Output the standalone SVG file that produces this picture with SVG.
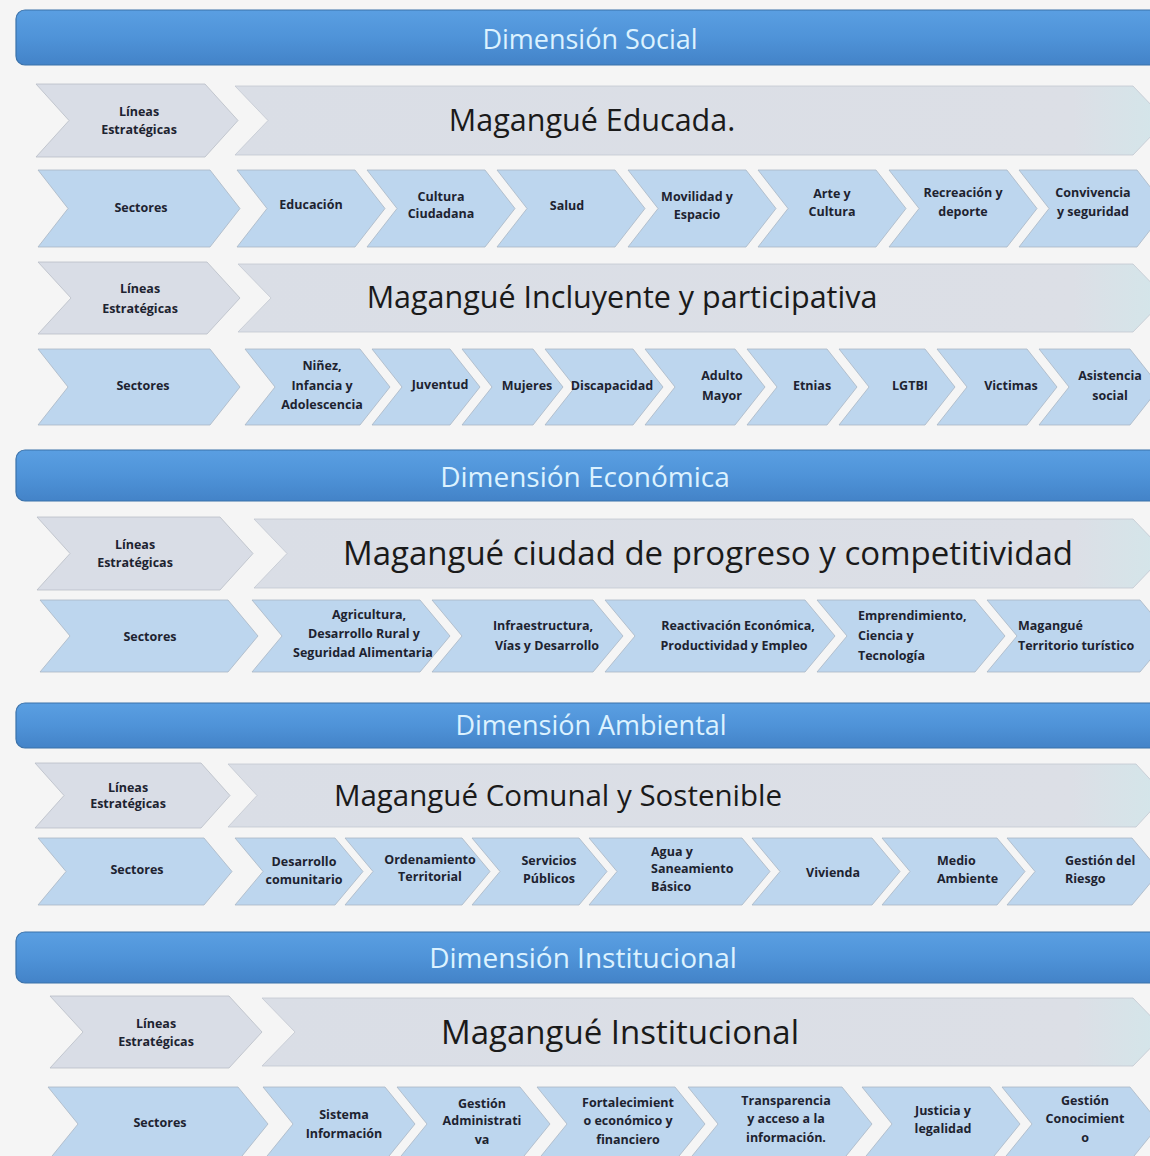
<svg xmlns="http://www.w3.org/2000/svg" width="1150" height="1156" viewBox="0 0 1150 1156">
<defs>
<linearGradient id="hdr" x1="0" y1="0" x2="0" y2="1">
<stop offset="0" stop-color="#5a9fe2"/>
<stop offset="0.5" stop-color="#4f93d8"/>
<stop offset="1" stop-color="#4383c8"/>
</linearGradient>
<linearGradient id="big" x1="0" y1="0" x2="1" y2="0">
<stop offset="0" stop-color="#dadee6"/>
<stop offset="0.9" stop-color="#dcdfe6"/>
<stop offset="1" stop-color="#d3e6ea"/>
</linearGradient>
<style>
.hdr{fill:url(#hdr);stroke:#3b72aa;stroke-width:1.2}
.ht{font-family:"Open Sans","Noto Sans",sans-serif;fill:#dcf2ff;text-anchor:middle}
.lin{fill:#d9dde6;stroke:#b9bec7;stroke-width:0.8}
.big{fill:url(#big);stroke:#c3c8d0;stroke-width:0.8}
.sec{fill:#bdd6ee;stroke:#a9b6c4;stroke-width:0.8}
.s{font-family:"Open Sans","Noto Sans",sans-serif;font-weight:700;fill:#1d2330;text-anchor:middle;font-size:12.5px}
.l{text-anchor:start}
.bt{font-family:"Open Sans","Noto Sans",sans-serif;fill:#1a1a1a;text-anchor:middle}
</style>
</defs>
<rect x="0" y="0" width="1150" height="1156" fill="#f5f5f5"/>

<!-- Dimension headers -->
<g id="hdr-social"><rect class="hdr" x="16" y="10" width="1150" height="55" rx="9"/><text class="ht" x="590" y="49" font-size="27">Dimensión Social</text></g>
<g id="hdr-economica"><rect class="hdr" x="16" y="450" width="1150" height="51" rx="9"/><text class="ht" x="585" y="487" font-size="28">Dimensión Económica</text></g>
<g id="hdr-ambiental"><rect class="hdr" x="16" y="703" width="1150" height="45" rx="9"/><text class="ht" x="591" y="735" font-size="27">Dimensión Ambiental</text></g>
<g id="hdr-institucional"><rect class="hdr" x="16" y="932" width="1150" height="51" rx="9"/><text class="ht" x="583" y="968" font-size="28">Dimensión Institucional</text></g>

<!-- Row 1 -->
<g id="r1-lineas"><path class="lin" d="M36,84 L205,84 L238,120.5 L205,157 L36,157 L69,120.5 Z"/><text class="s"><tspan x="139" y="116">Líneas</tspan><tspan x="139" y="134">Estratégicas</tspan></text></g>
<g id="r1-linea"><path class="big" d="M235,86 L1133,86 L1166,120.5 L1133,155 L235,155 L268,120.5 Z"/><text class="bt" x="592" y="131" font-size="30.5">Magangué Educada.</text></g>

<!-- Row 2 -->
<g id="r2-sectores"><path class="sec" d="M38,170 L210,170 L240,208.5 L210,247 L38,247 L68,208.5 Z"/><text class="s" x="141" y="212">Sectores</text></g>
<g id="r2-educacion"><path class="sec" d="M237,170 L355,170 L385,208.5 L355,247 L237,247 L267,208.5 Z"/><text class="s" x="311" y="209">Educación</text></g>
<g id="r2-cultura"><path class="sec" d="M367,170 L485,170 L515,208.5 L485,247 L367,247 L397,208.5 Z"/><text class="s"><tspan x="441" y="201">Cultura</tspan><tspan x="441" y="218">Ciudadana</tspan></text></g>
<g id="r2-salud"><path class="sec" d="M497,170 L615,170 L645,208.5 L615,247 L497,247 L527,208.5 Z"/><text class="s" x="567" y="210">Salud</text></g>
<g id="r2-movilidad"><path class="sec" d="M628,170 L746,170 L776,208.5 L746,247 L628,247 L658,208.5 Z"/><text class="s"><tspan x="697" y="201">Movilidad y</tspan><tspan x="697" y="219">Espacio</tspan></text></g>
<g id="r2-arte"><path class="sec" d="M758,170 L876,170 L906,208.5 L876,247 L758,247 L788,208.5 Z"/><text class="s"><tspan x="832" y="198">Arte y</tspan><tspan x="832" y="216">Cultura</tspan></text></g>
<g id="r2-recreacion"><path class="sec" d="M889,170 L1007,170 L1037,208.5 L1007,247 L889,247 L919,208.5 Z"/><text class="s"><tspan x="963" y="197">Recreación y</tspan><tspan x="963" y="216">deporte</tspan></text></g>
<g id="r2-convivencia"><path class="sec" d="M1019,170 L1137,170 L1167,208.5 L1137,247 L1019,247 L1049,208.5 Z"/><text class="s"><tspan x="1093" y="197">Convivencia</tspan><tspan x="1093" y="216">y seguridad</tspan></text></g>

<!-- Row 3 -->
<g id="r3-lineas"><path class="lin" d="M38,262 L207,262 L240,298 L207,334 L38,334 L71,298 Z"/><text class="s"><tspan x="140" y="293">Líneas</tspan><tspan x="140" y="313">Estratégicas</tspan></text></g>
<g id="r3-linea"><path class="big" d="M238,264 L1133,264 L1166,298 L1133,332 L238,332 L271,298 Z"/><text class="bt" x="622" y="308" font-size="30.5">Magangué Incluyente y participativa</text></g>

<!-- Row 4 -->
<g id="r4-sectores"><path class="sec" d="M38,349 L210,349 L240,387 L210,425 L38,425 L68,387 Z"/><text class="s" x="143" y="390">Sectores</text></g>
<g id="r4-ninez"><path class="sec" d="M245,349 L360,349 L390,387 L360,425 L245,425 L275,387 Z"/><text class="s"><tspan x="322" y="370">Niñez,</tspan><tspan x="322" y="390">Infancia y</tspan><tspan x="322" y="409">Adolescencia</tspan></text></g>
<g id="r4-juventud"><path class="sec" d="M372,349 L450,349 L480,387 L450,425 L372,425 L402,387 Z"/><text class="s" x="440" y="389">Juventud</text></g>
<g id="r4-mujeres"><path class="sec" d="M462,349 L533,349 L563,387 L533,425 L462,425 L492,387 Z"/><text class="s" x="527" y="390">Mujeres</text></g>
<g id="r4-discapacidad"><path class="sec" d="M545,349 L633,349 L663,387 L633,425 L545,425 L575,387 Z"/><text class="s" x="612" y="390" font-size="11">Discapacidad</text></g>
<g id="r4-adulto"><path class="sec" d="M645,349 L735,349 L765,387 L735,425 L645,425 L675,387 Z"/><text class="s"><tspan x="722" y="380">Adulto</tspan><tspan x="722" y="400">Mayor</tspan></text></g>
<g id="r4-etnias"><path class="sec" d="M747,349 L827,349 L857,387 L827,425 L747,425 L777,387 Z"/><text class="s" x="812" y="390">Etnias</text></g>
<g id="r4-lgtbi"><path class="sec" d="M839,349 L925,349 L955,387 L925,425 L839,425 L869,387 Z"/><text class="s" x="910" y="390">LGTBI</text></g>
<g id="r4-victimas"><path class="sec" d="M937,349 L1027,349 L1057,387 L1027,425 L937,425 L967,387 Z"/><text class="s" x="1011" y="390">Victimas</text></g>
<g id="r4-asistencia"><path class="sec" d="M1039,349 L1130,349 L1160,387 L1130,425 L1039,425 L1069,387 Z"/><text class="s"><tspan x="1110" y="380">Asistencia</tspan><tspan x="1110" y="400">social</tspan></text></g>

<!-- Row 5 -->
<g id="r5-lineas"><path class="lin" d="M37,517 L220,517 L253,553.5 L220,590 L37,590 L70,553.5 Z"/><text class="s"><tspan x="135" y="549">Líneas</tspan><tspan x="135" y="567">Estratégicas</tspan></text></g>
<g id="r5-linea"><path class="big" d="M254,519 L1133,519 L1166,553.5 L1133,588 L254,588 L287,553.5 Z"/><text class="bt" x="708" y="565" font-size="33">Magangué ciudad de progreso y competitividad</text></g>

<!-- Row 6 -->
<g id="r6-sectores"><path class="sec" d="M40,600 L228,600 L258,636 L228,672 L40,672 L70,636 Z"/><text class="s" x="150" y="641">Sectores</text></g>
<g id="r6-agricultura"><path class="sec" d="M252,600 L420,600 L450,636 L420,672 L252,672 L282,636 Z"/><text class="s" font-size="13.5"><tspan x="369" y="619">Agricultura,</tspan><tspan x="364" y="638">Desarrollo Rural y</tspan><tspan x="363" y="657">Seguridad Alimentaria</tspan></text></g>
<g id="r6-infra"><path class="sec" d="M432,600 L593,600 L623,636 L593,672 L432,672 L462,636 Z"/><text class="s" font-size="13"><tspan x="543" y="630">Infraestructura,</tspan><tspan x="547" y="650">Vías y Desarrollo</tspan></text></g>
<g id="r6-reactivacion"><path class="sec" d="M605,600 L805,600 L835,636 L805,672 L605,672 L635,636 Z"/><text class="s" font-size="13"><tspan x="738" y="630">Reactivación Económica,</tspan><tspan x="734" y="650">Productividad y Empleo</tspan></text></g>
<g id="r6-emprendimiento"><path class="sec" d="M817,600 L975,600 L1005,636 L975,672 L817,672 L847,636 Z"/><text class="s l" font-size="13"><tspan x="858" y="620">Emprendimiento,</tspan><tspan x="858" y="640">Ciencia y</tspan><tspan x="858" y="660">Tecnología</tspan></text></g>
<g id="r6-turismo"><path class="sec" d="M987,600 L1140,600 L1170,636 L1140,672 L987,672 L1017,636 Z"/><text class="s l" font-size="13"><tspan x="1018" y="630">Magangué</tspan><tspan x="1018" y="650">Territorio turístico</tspan></text></g>

<!-- Row 7 -->
<g id="r7-lineas"><path class="lin" d="M35,763 L201,763 L230,795.5 L201,828 L35,828 L64,795.5 Z"/><text class="s" font-size="11"><tspan x="128" y="792">Líneas</tspan><tspan x="128" y="808">Estratégicas</tspan></text></g>
<g id="r7-linea"><path class="big" d="M228,764 L1136,764 L1165,795.5 L1136,827 L228,827 L257,795.5 Z"/><text class="bt" x="558" y="806" font-size="29.5">Magangué Comunal y Sostenible</text></g>

<!-- Row 8 -->
<g id="r8-sectores"><path class="sec" d="M38,838 L204,838 L232,871.5 L204,905 L38,905 L66,871.5 Z"/><text class="s" x="137" y="874">Sectores</text></g>
<g id="r8-desarrollo"><path class="sec" d="M235,838 L335,838 L363,871.5 L335,905 L235,905 L263,871.5 Z"/><text class="s" font-size="12"><tspan x="304" y="866">Desarrollo</tspan><tspan x="304" y="884">comunitario</tspan></text></g>
<g id="r8-ordenamiento"><path class="sec" d="M345,838 L462,838 L490,871.5 L462,905 L345,905 L373,871.5 Z"/><text class="s" font-size="12"><tspan x="430" y="864">Ordenamiento</tspan><tspan x="430" y="881">Territorial</tspan></text></g>
<g id="r8-servicios"><path class="sec" d="M472,838 L579,838 L607,871.5 L579,905 L472,905 L500,871.5 Z"/><text class="s" font-size="12"><tspan x="549" y="865">Servicios</tspan><tspan x="549" y="883">Públicos</tspan></text></g>
<g id="r8-agua"><path class="sec" d="M589,838 L742,838 L770,871.5 L742,905 L589,905 L617,871.5 Z"/><text class="s l" font-size="12"><tspan x="651" y="856">Agua y</tspan><tspan x="651" y="873">Saneamiento</tspan><tspan x="651" y="891">Básico</tspan></text></g>
<g id="r8-vivienda"><path class="sec" d="M752,838 L872,838 L900,871.5 L872,905 L752,905 L780,871.5 Z"/><text class="s" font-size="12" x="833" y="877">Vivienda</text></g>
<g id="r8-medio"><path class="sec" d="M882,838 L997,838 L1025,871.5 L997,905 L882,905 L910,871.5 Z"/><text class="s l" font-size="12"><tspan x="937" y="865">Medio</tspan><tspan x="937" y="883">Ambiente</tspan></text></g>
<g id="r8-riesgo"><path class="sec" d="M1007,838 L1132,838 L1160,871.5 L1132,905 L1007,905 L1035,871.5 Z"/><text class="s l" font-size="12"><tspan x="1065" y="865">Gestión del</tspan><tspan x="1065" y="883">Riesgo</tspan></text></g>

<!-- Row 9 -->
<g id="r9-lineas"><path class="lin" d="M50,996 L229,996 L262,1032 L229,1068 L50,1068 L83,1032 Z"/><text class="s"><tspan x="156" y="1028">Líneas</tspan><tspan x="156" y="1046">Estratégicas</tspan></text></g>
<g id="r9-linea"><path class="big" d="M262,998 L1133,998 L1166,1032 L1133,1066 L262,1066 L295,1032 Z"/><text class="bt" x="620" y="1044" font-size="33">Magangué Institucional</text></g>

<!-- Row 10 -->
<g id="r10-sectores"><path class="sec" d="M48,1087 L238,1087 L268,1124 L238,1161 L48,1161 L78,1124 Z"/><text class="s" x="160" y="1127">Sectores</text></g>
<g id="r10-sistema"><path class="sec" d="M263,1087 L385,1087 L415,1124 L385,1161 L263,1161 L293,1124 Z"/><text class="s" font-size="13"><tspan x="344" y="1119">Sistema</tspan><tspan x="344" y="1138">Información</tspan></text></g>
<g id="r10-gestion"><path class="sec" d="M397,1087 L520,1087 L550,1124 L520,1161 L397,1161 L427,1124 Z"/><text class="s" font-size="13"><tspan x="482" y="1108">Gestión</tspan><tspan x="482" y="1125">Administrati</tspan><tspan x="482" y="1144">va</tspan></text></g>
<g id="r10-fortalecimiento"><path class="sec" d="M537,1087 L675,1087 L705,1124 L675,1161 L537,1161 L567,1124 Z"/><text class="s" font-size="13"><tspan x="628" y="1107">Fortalecimient</tspan><tspan x="628" y="1125">o económico y</tspan><tspan x="628" y="1144">financiero</tspan></text></g>
<g id="r10-transparencia"><path class="sec" d="M688,1087 L842,1087 L872,1124 L842,1161 L688,1161 L718,1124 Z"/><text class="s" font-size="13"><tspan x="786" y="1105">Transparencia</tspan><tspan x="786" y="1123">y acceso a la</tspan><tspan x="786" y="1142">información.</tspan></text></g>
<g id="r10-justicia"><path class="sec" d="M862,1087 L990,1087 L1020,1124 L990,1161 L862,1161 L892,1124 Z"/><text class="s" font-size="13"><tspan x="943" y="1115">Justicia y</tspan><tspan x="943" y="1133">legalidad</tspan></text></g>
<g id="r10-conocimiento"><path class="sec" d="M1002,1087 L1130,1087 L1160,1124 L1130,1161 L1002,1161 L1032,1124 Z"/><text class="s" font-size="13"><tspan x="1085" y="1105">Gestión</tspan><tspan x="1085" y="1123">Conocimient</tspan><tspan x="1085" y="1142">o</tspan></text></g>

<g id="connectors"></g>
</svg>
